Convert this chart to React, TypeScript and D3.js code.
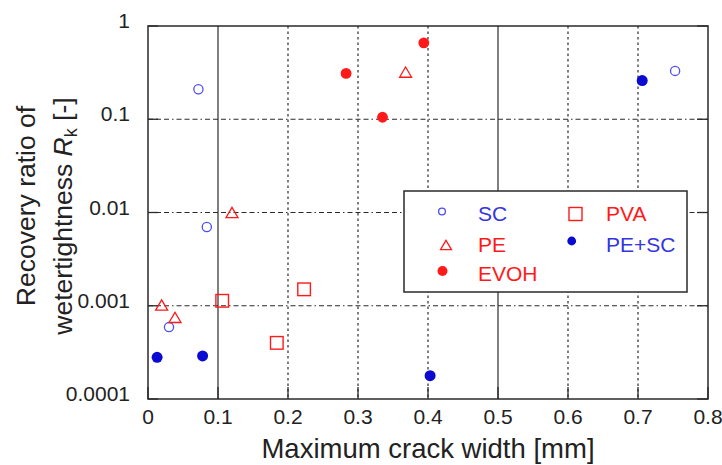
import React from 'react'
import * as d3 from 'd3'

// values
const scX = [0.072, 0.753, 0.084, 0.03]
const scY = [0.21, 0.33, 0.007, 0.00059]
const peX = [0.368, 0.12, 0.0195, 0.0386]
const peY = [0.32, 0.01, 0.00102, 0.00075]
const evohX = [0.283, 0.335, 0.394]
const evohY = [0.31, 0.105, 0.66]
const pvaX = [0.106, 0.223, 0.184]
const pvaY = [0.00113, 0.0015, 0.0004]
const pescX = [0.706, 0.013, 0.078, 0.403]
const pescY = [0.26, 0.00028, 0.00029, 0.000178]

const xTicks = [0, 0.1, 0.2, 0.3, 0.4, 0.5, 0.6, 0.7, 0.8]
const xTickLabels = ['0', '0.1', '0.2', '0.3', '0.4', '0.5', '0.6', '0.7', '0.8']
const yTicks = [0.0001, 0.001, 0.01, 0.1, 1]
const yTickLabels = ['0.0001', '0.001', '0.01', '0.1', '1']

const W = 722
const H = 465
const left = 148, right = 708, top = 26, bottom = 399

const RED = '#ff1a1a'
const BLUE_LIGHT = '#4d4df0'
const BLUE = '#0a0ad0'
const TEXT_BLUE = '#3434e0'
const INK = '#2a2a2a'
const FONT = '"Liberation Sans", Arial, sans-serif'

// little path helpers, centred on 0,0
const tri = (s: number) => {
  const h = s * 0.85
  return `M0,${-h / 2}L${s / 2},${h / 2}L${-s / 2},${h / 2}Z`
}

export default function App() {
  const x = d3.scaleLinear().domain([0, 0.8]).range([left, right])
  const y = d3.scaleLog().domain([0.0001, 1]).range([bottom, top])

  const zip = (xs: number[], ys: number[]) => xs.map((v, i) => [x(v), y(ys[i])])

  // vertical grid: 0.1 and 0.5 come out solid in the source
  const solidX = [0.1, 0.5]

  return (
    <svg width={W} height={H} style={{ position: 'absolute', left: 0, top: 0, background: '#fff' }} fontFamily={FONT}>
      {/* grid */}
      {xTicks.slice(1, -1).map(t => (
        <line key={'gx' + t} x1={x(t)} x2={x(t)} y1={top} y2={bottom}
          stroke={INK} strokeWidth={1.2}
          strokeDasharray={solidX.includes(t) ? undefined : '2.5,3'} />
      ))}
      {yTicks.slice(1, -1).map(t => (
        <line key={'gy' + t} x1={left} x2={right} y1={y(t)} y2={y(t)}
          stroke={INK} strokeWidth={1.2} strokeDasharray="5,3,5,3,5,3,1.5,3" />
      ))}

      {/* ticks: left, right, bottom (inward) */}
      {yTicks.map(t => (
        <g key={'ty' + t}>
          <line x1={left} x2={left + 10} y1={y(t)} y2={y(t)} stroke={INK} strokeWidth={1.3} />
          <line x1={right - 11} x2={right} y1={y(t)} y2={y(t)} stroke={INK} strokeWidth={1.3} />
        </g>
      ))}
      {xTicks.map(t => (
        <line key={'tx' + t} x1={x(t)} x2={x(t)} y1={bottom - 12} y2={bottom} stroke={INK} strokeWidth={1.3} />
      ))}

      <rect x={left} y={top} width={right - left} height={bottom - top} fill="none" stroke={INK} strokeWidth={1.5} />

      {/* tick labels */}
      {yTicks.map((t, i) => (
        <text key={'ly' + t} x={130} y={y(t) + 2} textAnchor="end" fontSize={21} fill="#222">{yTickLabels[i]}</text>
      ))}
      {xTicks.map((t, i) => (
        <text key={'lx' + t} x={x(t)} y={424} textAnchor="middle" fontSize={21} fill="#222">{xTickLabels[i]}</text>
      ))}

      {/* axis titles */}
      <text x={(left + right) / 2} y={458} textAnchor="middle" fontSize={27.5} fill="#222">Maximum crack width [mm]</text>
      <text transform="translate(35,206) rotate(-90)" textAnchor="middle" fontSize={26.5} fill="#222">Recovery ratio of</text>
      <text transform="translate(72,216) rotate(-90)" textAnchor="middle" fontSize={26.5} fill="#222">
        wetertightness <tspan fontStyle="italic">R</tspan>
        <tspan fontSize={18} dy={5}>k</tspan>
        <tspan dy={-5}> [-]</tspan>
      </text>

      {/* data */}
      {zip(scX, scY).map(([px, py], i) => (
        <circle key={'sc' + i} cx={px} cy={py} r={4.6} fill="none" stroke={BLUE_LIGHT} strokeWidth={1.3} />
      ))}
      {zip(peX, peY).map(([px, py], i) => (
        <path key={'pe' + i} transform={`translate(${px},${py})`} d={tri(12)} fill="none" stroke={RED} strokeWidth={1.3} />
      ))}
      {zip(evohX, evohY).map(([px, py], i) => (
        <circle key={'ev' + i} cx={px} cy={py} r={5.4} fill={RED} />
      ))}
      {zip(pvaX, pvaY).map(([px, py], i) => (
        <rect key={'pv' + i} x={px - 6.3} y={py - 6.3} width={12.6} height={12.6} fill="none" stroke={RED} strokeWidth={1.4} />
      ))}
      {zip(pescX, pescY).map(([px, py], i) => (
        <circle key={'ps' + i} cx={px} cy={py} r={5.5} fill={BLUE} />
      ))}

      {/* legend */}
      <g>
        <rect x={404} y={191} width={283} height={101} fill="#fff" stroke={INK} strokeWidth={1.5} />
        <circle cx={442} cy={211.5} r={3.4} fill="none" stroke={BLUE_LIGHT} strokeWidth={1.3} />
        <text x={478} y={220.5} fontSize={21} fill={TEXT_BLUE}>SC</text>
        <path transform="translate(446,245)" d={tri(11)} fill="none" stroke={RED} strokeWidth={1.3} />
        <text x={478} y={251.5} fontSize={21} fill={RED}>PE</text>
        <circle cx={442.5} cy={271} r={5} fill={RED} />
        <text x={478} y={280.5} fontSize={21} fill={RED}>EVOH</text>
        <rect x={569} y={207.5} width={13} height={13} fill="none" stroke={RED} strokeWidth={1.4} />
        <text x={606} y={220.5} fontSize={21} fill={RED}>PVA</text>
        <circle cx={571.7} cy={241} r={4.4} fill={BLUE} />
        <text x={606} y={251.5} fontSize={21} fill={TEXT_BLUE}>PE+SC</text>
      </g>
    </svg>
  )
}
